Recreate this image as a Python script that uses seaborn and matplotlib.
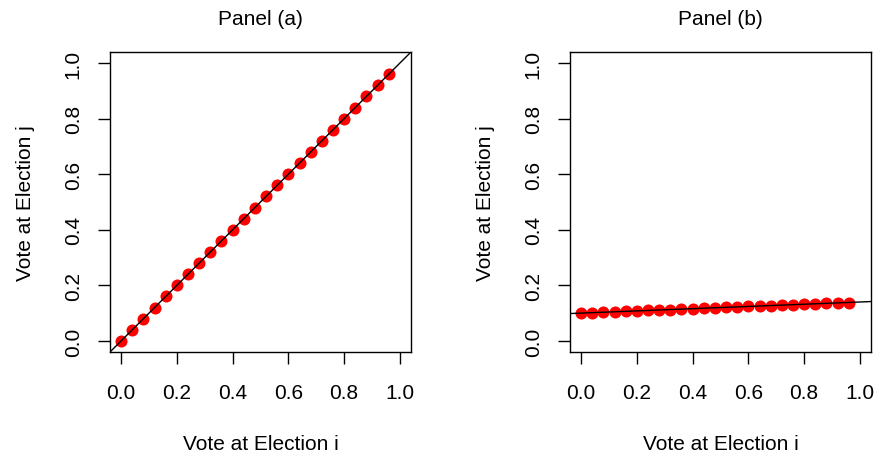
import matplotlib
matplotlib.use("Agg")
import matplotlib.pyplot as plt
import seaborn as sns

# vote shares at election i (same for both panels)
vote_i = [0.00, 0.04, 0.08, 0.12, 0.16, 0.20, 0.24, 0.28, 0.32, 0.36, 0.40, 0.44, 0.48,
          0.52, 0.56, 0.60, 0.64, 0.68, 0.72, 0.76, 0.80, 0.84, 0.88, 0.92, 0.96]

# panel (a): vote at election j tracks election i exactly
vote_j_a = [0.00, 0.04, 0.08, 0.12, 0.16, 0.20, 0.24, 0.28, 0.32, 0.36, 0.40, 0.44, 0.48,
            0.52, 0.56, 0.60, 0.64, 0.68, 0.72, 0.76, 0.80, 0.84, 0.88, 0.92, 0.96]

# panel (b): almost flat
vote_j_b = [0.100, 0.102, 0.103, 0.105, 0.106, 0.108, 0.110, 0.111, 0.113, 0.114, 0.116, 0.118, 0.119,
            0.121, 0.122, 0.124, 0.126, 0.127, 0.129, 0.130, 0.132, 0.134, 0.135, 0.137, 0.138]

# fitted lines (intercept, slope)
fit_a = (0.0, 1.0)
fit_b = (0.10, 0.04)

ticks = [0.0, 0.2, 0.4, 0.6, 0.8, 1.0]
tick_labels = ["0.0", "0.2", "0.4", "0.6", "0.8", "1.0"]

sns.set_style("white")
plt.rcParams["font.family"] = ["Liberation Sans", "DejaVu Sans"]
plt.rcParams["text.color"] = "black"
plt.rcParams["axes.labelcolor"] = "black"
plt.rcParams["xtick.color"] = "black"
plt.rcParams["ytick.color"] = "black"

fig = plt.figure(figsize=(8.76, 4.56), dpi=100)
ax_a = fig.add_axes([110 / 876, 1 - 353 / 456, 301 / 876, 300 / 456])
ax_b = fig.add_axes([570 / 876, 1 - 353 / 456, 301 / 876, 300 / 456])

panels = [(ax_a, vote_j_a, fit_a, "Panel (a)"), (ax_b, vote_j_b, fit_b, "Panel (b)")]

for ax, yvals, fit, title in panels:
    sns.scatterplot(x=vote_i, y=yvals, ax=ax, color="red", edgecolor="red",
                    s=75, linewidth=0, zorder=3)
    ax.axline((0, fit[0]), slope=fit[1], color="black", lw=1, zorder=4)
    ax.set_xlim(-0.04, 1.04)
    ax.set_ylim(-0.04, 1.04)
    ax.set_xticks(ticks)
    ax.set_xticklabels(tick_labels)
    ax.set_yticks(ticks)
    ax.set_yticklabels(tick_labels, rotation=90, va="center")
    ax.tick_params(axis="both", direction="out", length=8.6, width=1, color="black",
                   labelcolor="black", labelsize=15, bottom=True, left=True)
    ax.tick_params(axis="x", pad=14)
    ax.tick_params(axis="y", pad=11)
    for sp in ax.spines.values():
        sp.set_color("black")
        sp.set_linewidth(1)
    ax.set_title(title, fontsize=15, pad=20, color="black")
    ax.set_xlabel("Vote at Election i", fontsize=15, labelpad=23, color="black")
    ax.set_ylabel("Vote at Election j", fontsize=15, labelpad=21, color="black")

plt.savefig("out.png", dpi=100)
